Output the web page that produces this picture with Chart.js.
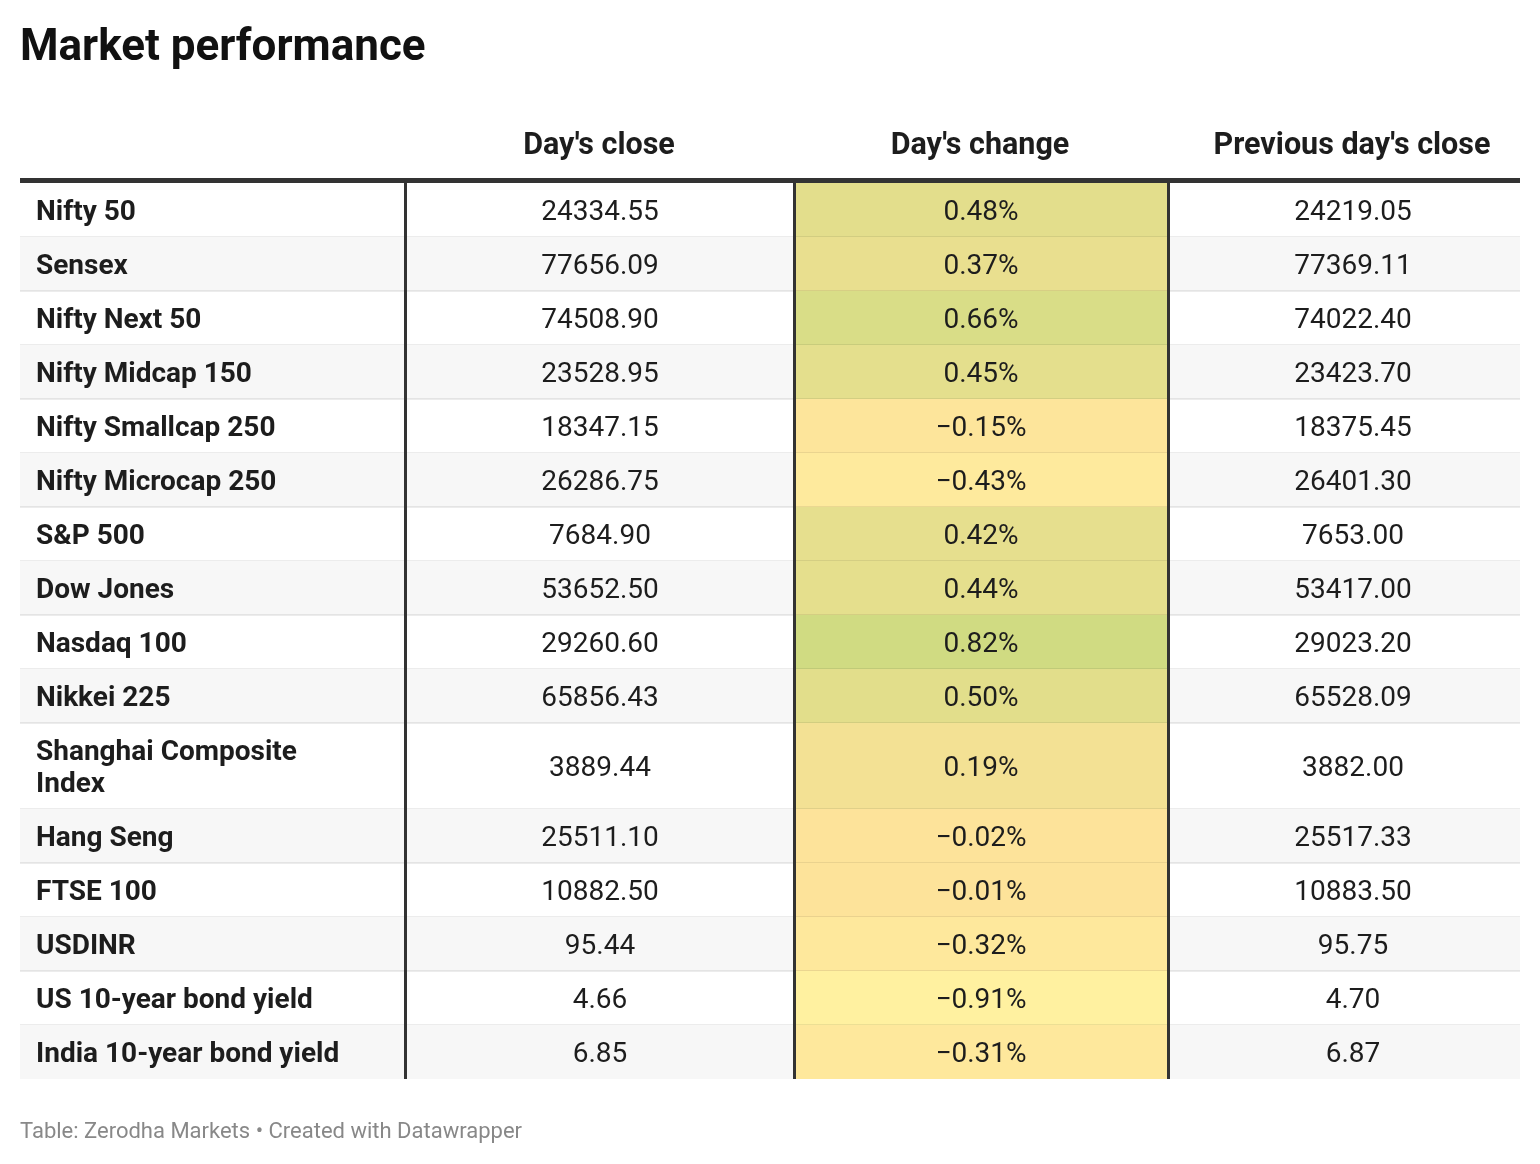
<!DOCTYPE html>
<html>
<head>
<meta charset="utf-8">
<title>Market performance</title>
<script src="https://cdn.jsdelivr.net/npm/chart.js@4.4.1/dist/chart.umd.min.js"></script>
<style>
  html, body { margin: 0; padding: 0; background: #fff; }
  #wrap { width: 1540px; height: 1164px; }
</style>
</head>
<body>
<div id="wrap"><canvas id="marketTable" width="1540" height="1164"></canvas></div>
<script>
// Table data
const indices = [
  "Nifty 50", "Sensex", "Nifty Next 50", "Nifty Midcap 150", "Nifty Smallcap 250",
  "Nifty Microcap 250", "S&P 500", "Dow Jones", "Nasdaq 100", "Nikkei 225",
  "Shanghai Composite Index", "Hang Seng", "FTSE 100", "USDINR",
  "US 10-year bond yield", "India 10-year bond yield"
];
const dayClose = [
  24334.55, 77656.09, 74508.90, 23528.95, 18347.15, 26286.75, 7684.90, 53652.50,
  29260.60, 65856.43, 3889.44, 25511.10, 10882.50, 95.44, 4.66, 6.85
];
const dayChange = [
  0.48, 0.37, 0.66, 0.45, -0.15, -0.43, 0.42, 0.44,
  0.82, 0.50, 0.19, -0.02, -0.01, -0.32, -0.91, -0.31
];
const prevClose = [
  24219.05, 77369.11, 74022.40, 23423.70, 18375.45, 26401.30, 7653.00, 53417.00,
  29023.20, 65528.09, 3882.00, 25517.33, 10883.50, 95.75, 4.70, 6.87
];
const columnHeaders = ["", "Day's close", "Day's change", "Previous day's close"];
const title = "Market performance";
const footer = "Table: Zerodha Markets \u2022 Created with Datawrapper";

// Layout / style
const FONT = "Roboto, 'Noto Sans', sans-serif";
const colBounds = [0, 385.5, 774, 1148, 1500];   // x scale units
const colCentres = [16, 579, 960, 1332];
const ROW_H = 54, LINE_H = 32, LABEL_MAX = 330;

// colour scale for day's change
const colourStops = [
  [-0.91, [255, 241, 160]],
  [0, [253, 227, 154]],
  [0.82, [208, 219, 130]],
];
function changeColour(v) {
  let a = colourStops[0], b = colourStops[colourStops.length - 1];
  for (let i = 0; i < colourStops.length - 1; i++) {
    if (v >= colourStops[i][0] && v <= colourStops[i + 1][0]) {
      a = colourStops[i]; b = colourStops[i + 1];
    }
  }
  const t = Math.max(0, Math.min(1, (v - a[0]) / (b[0] - a[0])));
  const c = a[1].map((ch, k) => Math.round(ch + (b[1][k] - ch) * t));
  return "rgb(" + c.join(",") + ")";
}

function fmt(v) { return v.toFixed(2).replace("-", "\u2212"); }

// wrap row labels to work out row heights
const measure = document.createElement("canvas").getContext("2d");
function wrapLabel(text) {
  measure.font = "bold 28px " + FONT;
  const words = text.split(" ");
  const lines = [];
  let cur = "";
  words.forEach(function (w) {
    const test = cur ? cur + " " + w : w;
    if (cur && measure.measureText(test).width > LABEL_MAX) {
      lines.push(cur);
      cur = w;
    } else {
      cur = test;
    }
  });
  lines.push(cur);
  return lines;
}

function build() {
  const labelLines = indices.map(wrapLabel);
  const rowTops = [];
  let total = 0;
  labelLines.forEach(function (l) {
    rowTops.push(total);
    total += ROW_H + (l.length - 1) * LINE_H;
  });
  const rowBottom = (i) => (i + 1 < rowTops.length ? rowTops[i + 1] : total);

  const tablePlugin = {
    id: "tableCells",
    beforeDatasetsDraw(chart) {
      const { ctx, chartArea } = chart;
      const x = chart.scales.x, y = chart.scales.y;
      const left = x.getPixelForValue(0), right = x.getPixelForValue(1500);
      ctx.save();

      // striped rows and coloured change cells
      indices.forEach(function (name, i) {
        const top = y.getPixelForValue(rowTops[i]);
        const bot = y.getPixelForValue(rowBottom(i));
        if (i % 2 === 1) {
          ctx.fillStyle = "#f7f7f7";
          ctx.fillRect(left, top, right - left, bot - top);
        }
        const c0 = x.getPixelForValue(colBounds[2]), c1 = x.getPixelForValue(colBounds[3]);
        ctx.fillStyle = changeColour(dayChange[i]);
        ctx.fillRect(c0, top, c1 - c0, bot - top);
        if (i < indices.length - 1) {
          ctx.fillStyle = "rgba(0,0,0,0.075)";
          ctx.fillRect(left, bot - 1, right - left, 2);
        }
      });

      // vertical dividers
      ctx.fillStyle = "#333";
      [1, 2, 3].forEach(function (k) {
        const px = x.getPixelForValue(colBounds[k]);
        ctx.fillRect(Math.round(px - 1.5), chartArea.top, 3, chartArea.bottom - chartArea.top);
      });
      // header rule
      ctx.fillRect(left, chartArea.top - 5, right - left, 5);

      // header text
      ctx.fillStyle = "#1d1d1d";
      ctx.font = "bold 30.5px " + FONT;
      ctx.textAlign = "center";
      ctx.textBaseline = "alphabetic";
      columnHeaders.forEach(function (h, k) {
        if (h) ctx.fillText(h, x.getPixelForValue(colCentres[k]), chartArea.top - 29);
      });

      // cell text
      indices.forEach(function (name, i) {
        const mid = (y.getPixelForValue(rowTops[i]) + y.getPixelForValue(rowBottom(i))) / 2;
        const lines = labelLines[i];
        ctx.font = "bold 28px " + FONT;
        ctx.textAlign = "left";
        lines.forEach(function (ln, j) {
          const ly = mid + (j - (lines.length - 1) / 2) * LINE_H + 10;
          ctx.fillText(ln, x.getPixelForValue(colCentres[0]), ly);
        });
        ctx.font = "28px " + FONT;
        ctx.textAlign = "center";
        ctx.fillText(fmt(dayClose[i]), x.getPixelForValue(580), mid + 10);
        ctx.fillText(fmt(dayChange[i]) + "%", x.getPixelForValue(961), mid + 10);
        ctx.fillText(fmt(prevClose[i]), x.getPixelForValue(1333), mid + 10);
      });

      // title and footer
      ctx.textAlign = "left";
      ctx.fillStyle = "#111";
      ctx.font = "bold 44px " + FONT;
      ctx.fillText(title, 20, 60);
      ctx.fillStyle = "#888";
      ctx.font = "22px " + FONT;
      ctx.fillText(footer, 20, 1138);

      ctx.restore();
    },
  };

  new Chart(document.getElementById("marketTable"), {
    type: "scatter",
    data: {
      datasets: [
        {
          label: "Day's change",
          data: dayChange.map((v, i) => ({
            x: (colBounds[2] + colBounds[3]) / 2,
            y: (rowTops[i] + rowBottom(i)) / 2,
          })),
          pointRadius: 0,
        },
      ],
    },
    options: {
      responsive: false,
      animation: false,
      layout: { padding: { left: 20, right: 20, top: 183, bottom: 85 } },
      scales: {
        x: { type: "linear", min: 0, max: 1500, display: false },
        y: { type: "linear", min: 0, max: total, reverse: true, display: false },
      },
      plugins: {
        legend: { display: false },
        tooltip: { enabled: false },
      },
    },
    plugins: [tablePlugin],
  });
}

Promise.all([
  document.fonts.load("bold 28px Roboto"),
  document.fonts.load("28px Roboto"),
]).then(build, build);
</script>
</body>
</html>
